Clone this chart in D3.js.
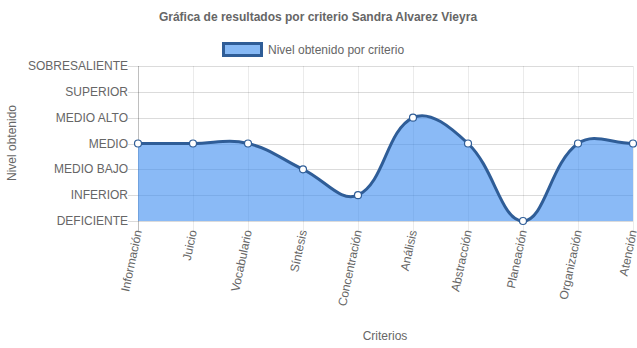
<!DOCTYPE html>
<html>
<head>
<meta charset="utf-8">
<script src="https://cdn.jsdelivr.net/npm/d3@7"></script>
<style>
  body { margin: 0; background: #fff; }
  text { font-family: "Liberation Sans", Arial, Helvetica, sans-serif; fill: #666; }
</style>
</head>
<body>
<div id="chart"></div>
<script>
var categories = ['Información', 'Juicio', 'Vocabulario', 'Síntesis', 'Concentración',
	'Análisis', 'Abstracción', 'Planeación', 'Organización', 'Atención'];
var levels = ['DEFICIENTE', 'INFERIOR', 'MEDIO BAJO', 'MEDIO', 'MEDIO ALTO', 'SUPERIOR', 'SOBRESALIENTE'];
var values = [3, 3, 3, 2, 1, 4, 3, 0, 3, 3];

var W = 637, H = 348,
	plotLeft = 138, plotRight = 633, plotTop = 66, plotBottom = 221;

var svg = d3.select('#chart').append('svg')
	.attr('width', W)
	.attr('height', H);

var x = d3.scalePoint().domain(categories).range([plotLeft, plotRight]);
var y = d3.scaleLinear().domain([0, levels.length - 1]).range([plotBottom, plotTop]);

// title
svg.append('text')
	.attr('x', 318).attr('y', 21)
	.attr('text-anchor', 'middle')
	.style('font-size', '12px').style('font-weight', 'bold')
	.text('Gráfica de resultados por criterio Sandra Alvarez Vieyra');

// legend
svg.append('rect')
	.attr('x', 223.5).attr('y', 43.5).attr('width', 38).attr('height', 12)
	.attr('fill', '#87b9f5').attr('stroke', '#2f5d97').attr('stroke-width', 3);
svg.append('text')
	.attr('x', 268).attr('y', 54)
	.style('font-size', '12px')
	.text('Nivel obtenido por criterio');

// grid
var grid = svg.append('g');
grid.selectAll('.hg').data(d3.range(levels.length)).enter().append('line')
	.attr('x1', plotLeft - 10).attr('x2', plotRight)
	.attr('y1', function(d) { return Math.round(y(d)) + 0.5; })
	.attr('y2', function(d) { return Math.round(y(d)) + 0.5; })
	.attr('stroke', 'rgba(0,0,0,0.14)');
grid.selectAll('.vg').data(categories).enter().append('line')
	.attr('x1', function(d) { return Math.round(x(d)) + 0.5; })
	.attr('x2', function(d) { return Math.round(x(d)) + 0.5; })
	.attr('y1', plotTop).attr('y2', plotBottom + 10)
	.attr('stroke', function(d, i) { return i === 0 ? 'rgba(0,0,0,0.25)' : 'rgba(0,0,0,0.08)'; });

// y labels
svg.selectAll('.yl').data(levels).enter().append('text')
	.attr('x', plotLeft - 10).attr('y', function(d, i) { return y(i) + 4; })
	.attr('text-anchor', 'end')
	.style('font-size', '12px')
	.text(function(d) { return d; });

// x labels (rotated)
svg.selectAll('.xl').data(categories).enter().append('text')
	.attr('transform', function(d) { return 'translate(' + (x(d) + 4) + ',' + (plotBottom + 10) + ')rotate(-78)'; })
	.attr('text-anchor', 'end')
	.style('font-size', '12px')
	.text(function(d) { return d; });

// axis titles
svg.append('text')
	.attr('transform', 'translate(16,143)rotate(-90)')
	.attr('text-anchor', 'middle')
	.style('font-size', '12px')
	.text('Nivel obtenido');
svg.append('text')
	.attr('x', 385).attr('y', 340)
	.attr('text-anchor', 'middle')
	.style('font-size', '12px')
	.text('Criterios');

// spline like chart.js (tension 0.4)
var pts = values.map(function(v, i) { return { x: x(categories[i]), y: y(v) }; });
function dist(a, b) { return Math.sqrt((a.x - b.x) * (a.x - b.x) + (a.y - b.y) * (a.y - b.y)); }
function clampY(v) { return Math.max(plotTop, Math.min(plotBottom, v)); }
pts.forEach(function(p, i) {
	var prev = pts[i - 1] || p, next = pts[i + 1] || p;
	var d01 = dist(p, prev), d12 = dist(next, p);
	var s01 = d01 / (d01 + d12) || 0, s12 = d12 / (d01 + d12) || 0;
	var fa = 0.4 * s01, fb = 0.4 * s12;
	p.cp1 = { x: p.x - fa * (next.x - prev.x), y: clampY(p.y - fa * (next.y - prev.y)) };
	p.cp2 = { x: p.x + fb * (next.x - prev.x), y: clampY(p.y + fb * (next.y - prev.y)) };
});

function linePath(ctx) {
	ctx.moveTo(pts[0].x, pts[0].y);
	for (var i = 1; i < pts.length; i++) {
		var a = pts[i - 1], b = pts[i];
		ctx.bezierCurveTo(a.cp2.x, a.cp2.y, b.cp1.x, b.cp1.y, b.x, b.y);
	}
	return ctx;
}

var area = linePath(d3.path());
area.lineTo(pts[pts.length - 1].x, plotBottom);
area.lineTo(pts[0].x, plotBottom);
area.closePath();

svg.append('path')
	.attr('d', area.toString())
	.attr('fill', 'rgba(66,143,240,0.62)');

svg.append('path')
	.attr('d', linePath(d3.path()).toString())
	.attr('fill', 'none')
	.attr('stroke', '#2f5d97')
	.attr('stroke-width', 3);

svg.selectAll('.pt').data(pts).enter().append('circle')
	.attr('cx', function(d) { return d.x; })
	.attr('cy', function(d) { return d.y; })
	.attr('r', 3.5)
	.attr('fill', '#fff')
	.attr('stroke', '#2f5d97')
	.attr('stroke-width', 1.2);
</script>
</body>
</html>
